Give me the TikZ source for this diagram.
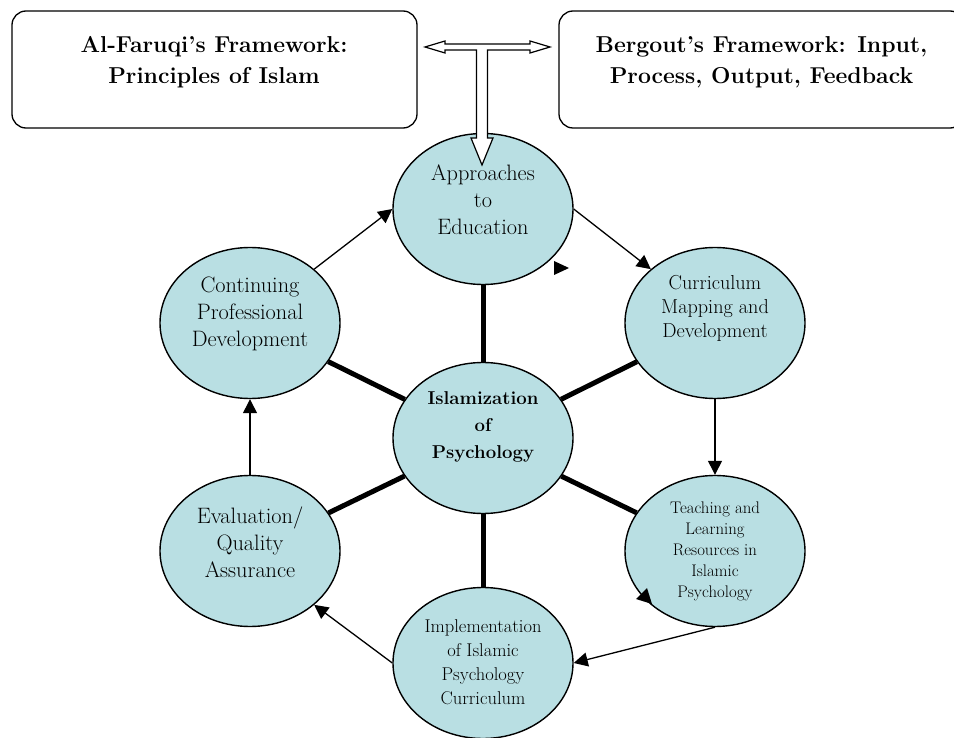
\documentclass[tikz,border=0pt]{standalone}
\usetikzlibrary{shapes.geometric,arrows.meta,calc}
\definecolor{bubblefill}{RGB}{185,223,227}
\begin{document}
\begin{tikzpicture}[x=1pt,y=-1pt,
  bubble/.style={ellipse, draw=black, line width=1.4pt, fill=bubblefill,
    minimum width=180pt, minimum height=151pt, inner sep=0pt},
  btext/.style={align=center, inner sep=0pt, font=\fontsize{22.3}{27}\selectfont},
  fwbox/.style={draw=black, line width=1.3pt, rounded corners=14pt,
    minimum width=405pt, minimum height=117pt, inner sep=0pt},
  fwtext/.style={align=center, inner sep=0pt, font=\bfseries\fontsize{23}{31}\selectfont},
  spoke/.style={line width=5pt},
  flow/.style={line width=1.3pt, -{Triangle[length=14pt,width=14pt]}},
  hollow/.style={draw=black, fill=white, line width=1.2pt, line join=miter},
]
\useasboundingbox (0,0) rectangle (954,738);
\clip (0,0) rectangle (954,738);

% framework boxes
\node[fwbox] (faruqi) at (214.5,69.5) {};
\node[fwtext] (faruqiText) at (214,62.5) {Al-Faruqi’s Framework:\\Principles of Islam};
\node[fwbox] (bergout) at (761.5,69.5) {};
\node[fwtext] (bergoutText) at (761.5,62.5) {Bergout’s Framework: Input,\\Process, Output, Feedback};

% cycle of stages around the core
\node[bubble] (app) at (483,209) {};
\node[bubble] (cmd) at (715,323) {};
\node[bubble] (tlr) at (715,551) {};
\node[bubble] (imp) at (483,663) {};
\node[bubble] (eqa) at (250,551) {};
\node[bubble] (cpd) at (250,323) {};
\node[bubble] (iop) at (483,438) {};

% spokes from the core
\foreach \t in {app,cmd,tlr,imp,eqa,cpd}
  \draw[spoke] (iop) -- (\t);

% cycle arrows
\draw[flow] (cpd.40) -- (app.west);
\draw[flow] (app.east) -- (cmd.140);
\draw[flow] (cmd.south) -- (tlr.north);
\draw[flow] (tlr.south) -- (imp.east);
\draw[flow] (imp.west) -- (eqa.-40);
\draw[flow] (eqa.north) -- (cpd.south);

% loose arrow tips
\fill (554,261) -- (569,268) -- (554,275) -- cycle;
\fill (636,599) -- (652,604) -- (647,588) -- cycle;

% labels
\node[btext] (appText) at (483,199.5) {Approaches\\to\\Education};
\node[btext, font=\fontsize{20.2}{24}\selectfont] (cmdText) at (715,308) {Curriculum\\Mapping and\\Development};
\node[btext, font=\fontsize{16.8}{21}\selectfont] (tlrText) at (715,551) {Teaching and\\Learning\\Resources in\\Islamic\\Psychology};
\node[btext, font=\fontsize{18.5}{24}\selectfont] (impText) at (483,662) {Implementation\\of Islamic\\Psychology\\Curriculum};
\node[btext] (eqaText) at (250,542) {Evaluation/\\Quality\\Assurance};
\node[btext] (cpdText) at (250,314) {Continuing\\Professional\\Development};
\node[btext, font=\bfseries\fontsize{18.6}{27}\selectfont] (iopText) at (483,427) {Islamization\\of\\Psychology};

% hollow link between the frameworks, feeding the approaches
\coordinate (linkL) at (425,47);
\coordinate (linkR) at (550,47);
\coordinate (linkTip) at (482,165);
\draw[hollow] (linkL) -- ++(20,-6) -- ++(0,3) -- ($(linkR)+(-20,-3)$) -- ++(0,-3)
  -- (linkR) -- ++(-20,6) -- ++(0,-3) -- ($(linkTip |- linkR)+(5.5,3)$)
  -- ($(linkTip)+(5.5,-27)$) -- ++(5.5,0) -- (linkTip) -- ++(-11,-27) -- ++(5.5,0)
  -- ($(linkTip |- linkR)+(-5.5,3)$) -- ($(linkL)+(20,3)$) -- ++(0,3) -- cycle;
\end{tikzpicture}
\end{document}
